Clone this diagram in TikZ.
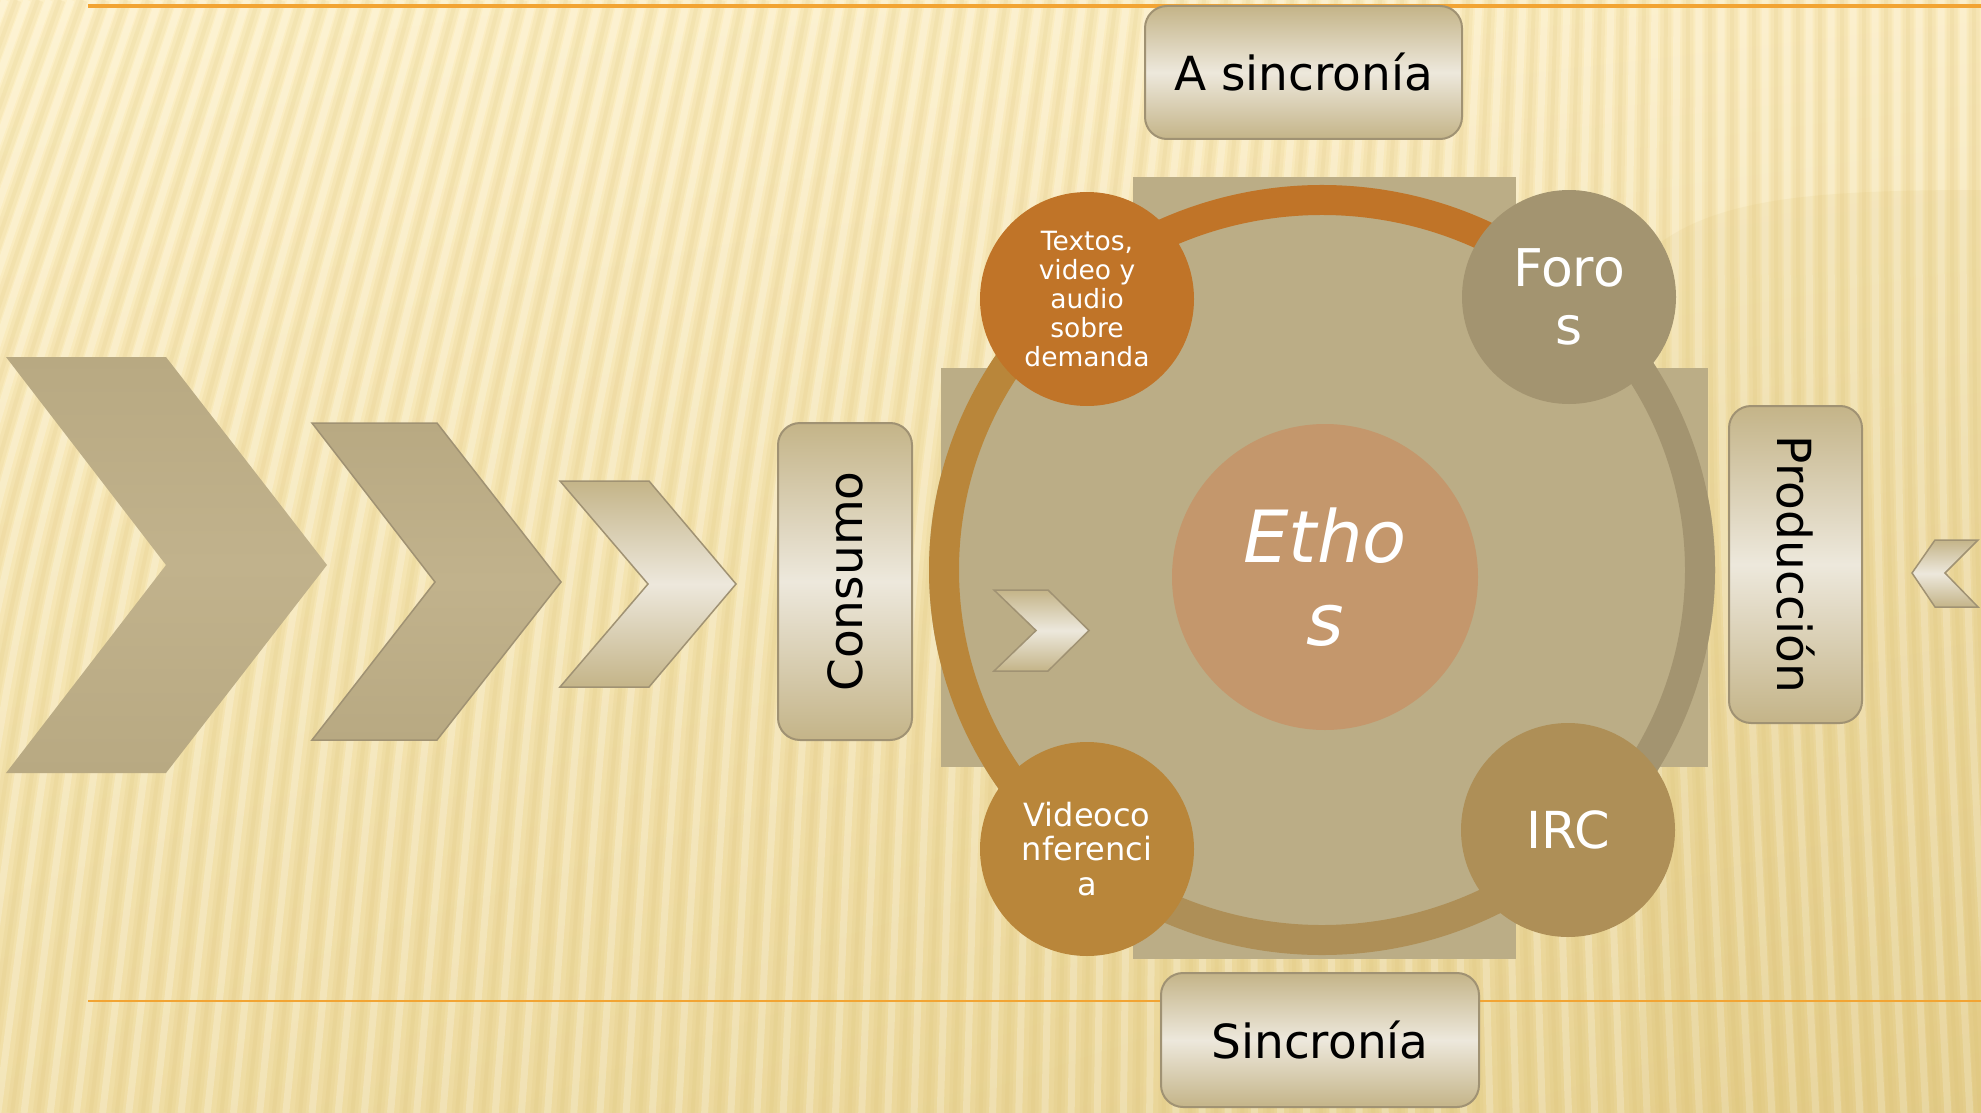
\documentclass[tikz,border=0pt]{standalone}
\usepackage{fontspec}
\setmainfont{DejaVu Sans}
\usetikzlibrary{shadings}
\definecolor{bgUL}{HTML}{FDF0C7}
\definecolor{bgUR}{HTML}{FAEBBF}
\definecolor{bgLL}{HTML}{F0DEA6}
\definecolor{bgLR}{HTML}{E6D08F}
\definecolor{stripeDark}{HTML}{D6B964}
\definecolor{lineOrange}{HTML}{F2A433}
\definecolor{crossTan}{HTML}{BBAD86}
\definecolor{boxTan}{HTML}{C4B488}
\definecolor{boxLight}{HTML}{EDE8DC}
\definecolor{boxBorder}{HTML}{A09273}
\definecolor{chevA}{HTML}{B8A982}
\definecolor{chevB}{HTML}{C1B28C}
\definecolor{ringTop}{HTML}{C07428}
\definecolor{ringRight}{HTML}{A39470}
\definecolor{ringBottom}{HTML}{AE8F57}
\definecolor{ringLeft}{HTML}{B9863A}
\definecolor{ethosFill}{HTML}{C4976C}
\tikzset{
  boxstyle/.style={draw=boxBorder, line width=2pt, rounded corners=22pt,
    inner sep=0pt, text=black, font=\fontsize{47}{56}\selectfont},
  vgrad/.style={top color=boxTan, bottom color=boxTan, middle color=boxLight},
  circstyle/.style={circle, inner sep=0pt, minimum size=214pt, text=white, align=center},
  stripeL/.style={white, opacity=0.22, line width=7pt},
  stripeD/.style={stripeDark, opacity=0.11, line width=11pt},
  stripeDD/.style={stripeDark, opacity=0.10, line width=4pt},
  ringarc/.style={line width=30pt},
}
\begin{document}
\begin{tikzpicture}[x=1pt,y=-1pt]
\useasboundingbox (0,0) rectangle (1981,1113);
% background
\shade[upper left=bgUL, upper right=bgUR, lower left=bgLL, lower right=bgLR] (0,0) rectangle (1981,1113);
\begin{scope}
\clip (0,0) rectangle (1981,1113);
\foreach \i in {0,...,100} {
  \pgfmathsetmacro\xo{-160+22*\i}
  \pgfmathsetmacro\st{max(0,0.37*(1-\xo/1700))}
  \pgfmathsetmacro\sb{max(-0.05,0.16-0.21*\xo/1700)}
  \pgfmathsetmacro\xm{\xo-\st*556.5}
  \pgfmathsetmacro\xe{\xo-(\st+\sb)*556.5}
  \draw[stripeD] (\xo,0) .. controls (\xm,556.5) .. (\xe,1113);
  \draw[stripeDD] (\xo,0) .. controls (\xm,556.5) .. (\xe,1113);
  \draw[stripeL] (\xo+11,0) .. controls (\xm+11,556.5) .. (\xe+12,1113);
}
% soft darker area at the right
\fill[stripeDark, opacity=0.10] (1640,1113) -- (1640,260) .. controls (1700,200) and (1800,190) .. (1981,190) -- (1981,1113) -- cycle;
\end{scope}
% horizontal lines
\coordinate (tl) at (88,6);
\coordinate (tr) at (1981,6);
\coordinate (bl) at (88,1001);
\coordinate (br) at (1981,1001);
\draw[lineOrange, line width=4pt] (tl) -- (tr);
\draw[lineOrange, line width=2pt] (bl) -- (br);
% left chevrons
\path[top color=chevA, bottom color=chevA, middle color=chevB]
  (6,357) -- (166,357) -- (327,565) -- (166,773) -- (6,773) -- (166,565) -- cycle;
\path[draw=boxBorder, line width=1.5pt, top color=chevA, bottom color=chevA, middle color=chevB]
  (312,423) -- (437,423) -- (561,582) -- (437,740) -- (312,740) -- (435,582) -- cycle;
\path[draw=boxBorder, line width=1.5pt, vgrad]
  (560,481) -- (649,481) -- (736,584) -- (649,687) -- (560,687) -- (648,584) -- cycle;
% right chevron
\path[draw=boxBorder, line width=1.5pt, vgrad]
  (1935,540) -- (1978,540) -- (1945,573) -- (1978,607) -- (1935,607) -- (1912,573) -- cycle;
% central cross
\fill[crossTan] (1133,177) rectangle (1516,959);
\fill[crossTan] (941,368) rectangle (1708,767);
% ring
\fill[crossTan] (1322,570) ellipse [x radius=393, y radius=385];
\draw[ringarc, ringTop] (1322,570) ++(-140:378 and 370) arc[start angle=-140, end angle=-40, x radius=378, y radius=370];
\draw[ringarc, ringRight] (1322,570) ++(-45:378 and 370) arc[start angle=-45, end angle=45, x radius=378, y radius=370];
\draw[ringarc, ringBottom] (1322,570) ++(40:378 and 370) arc[start angle=40, end angle=140, x radius=378, y radius=370];
\draw[ringarc, ringLeft] (1322,570) ++(135:378 and 370) arc[start angle=135, end angle=225, x radius=378, y radius=370];
% circles
\node[circstyle, fill=ringTop, font=\fontsize{26.5}{29}\selectfont] (textos) at (1087,299)
  {Textos,\\video y\\audio\\sobre\\demanda};
\node[circstyle, fill=ringRight, font=\fontsize{52}{58}\selectfont] (foros) at (1569,297) {Foro\\s};
\node[circstyle, fill=ringLeft, font=\fontsize{32}{34.5}\selectfont] (video) at (1087,849)
  {Videoco\\nferenci\\a};
\node[circstyle, fill=ringBottom, font=\fontsize{51}{58}\selectfont] (irc) at (1568,830) {IRC};
\node[circle, inner sep=0pt, minimum size=306pt, fill=ethosFill, text=white, align=center,
  font=\itshape\fontsize{72}{83}\selectfont] (ethos) at (1325,577) {Etho\\s};
% small chevron inside
\path[draw=boxBorder, line width=1.5pt, vgrad]
  (994,590) -- (1048,590) -- (1089,630.5) -- (1048,671) -- (994,671) -- (1036,630.5) -- cycle;
% boxes
\node[boxstyle, vgrad, minimum width=317pt, minimum height=133pt] (asinc) at (1303.5,72.5) {A sincronía};
\node[boxstyle, vgrad, minimum width=318pt, minimum height=134pt] (sinc) at (1320,1040) {Sincronía};
\node[boxstyle, vgrad, rotate=90, minimum width=317pt, minimum height=134pt] (consumo) at (845,581.5) {Consumo};
\node[boxstyle, vgrad, rotate=-90, minimum width=317pt, minimum height=133pt] (prod) at (1795.5,564.5) {Producción};
\end{tikzpicture}
\end{document}
